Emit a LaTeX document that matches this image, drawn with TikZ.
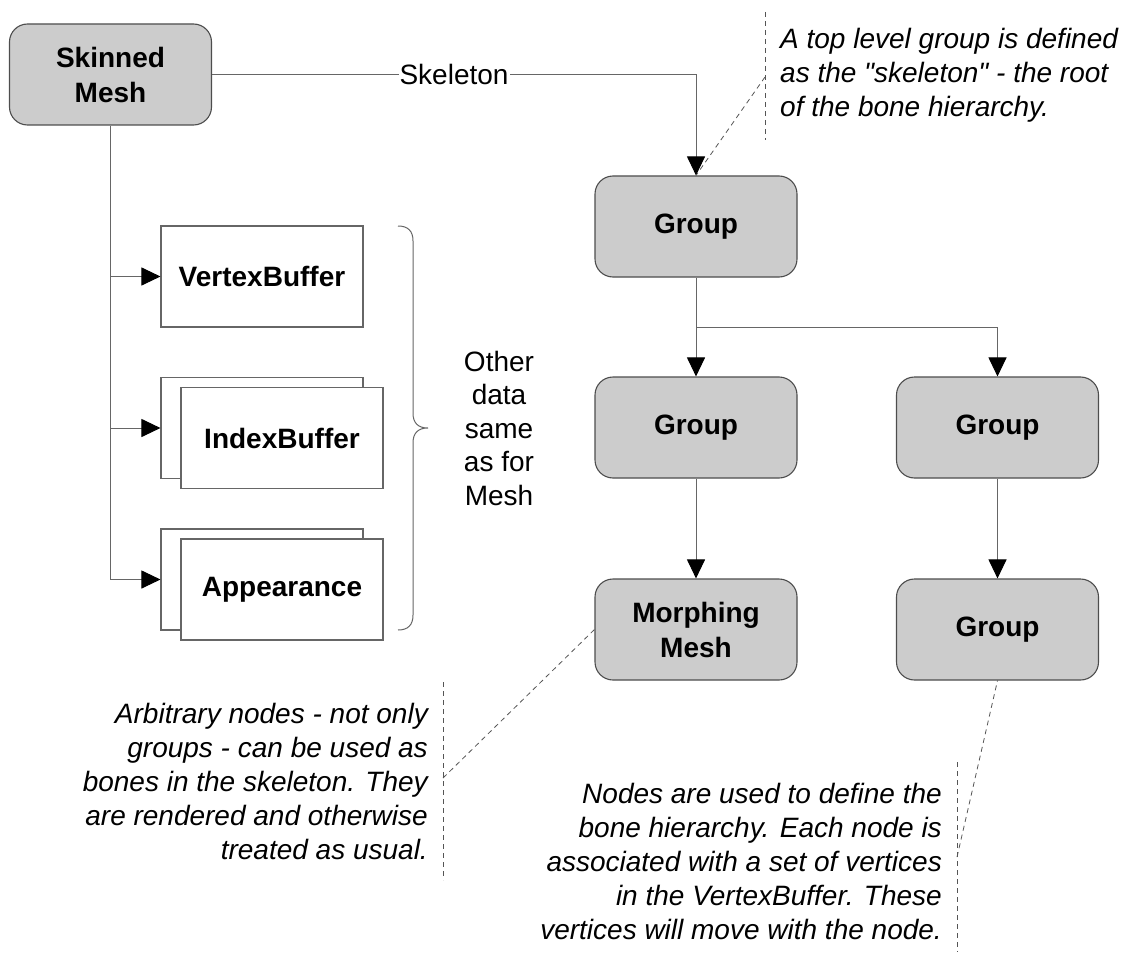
\documentclass[tikz,border=0pt]{standalone}
\usepackage{fontspec}
\setmainfont{Liberation Sans}
% plain family without TeX ligature mapping, so " stays a straight quote
\newfontfamily\notefont{Liberation Sans}
\usetikzlibrary{arrows.meta,calc}
\definecolor{boxfill}{HTML}{CCCCCC}
\definecolor{edgegray}{HTML}{4D4D4D}
\definecolor{linegray}{HTML}{666666}
\definecolor{leadgray}{HTML}{555555}
\begin{document}
\begin{tikzpicture}[x=1pt,y=-1pt,
  bone/.style={draw=edgegray, line width=1.1pt, fill=boxfill, rounded corners=18pt,
    minimum width=202pt, minimum height=101pt, align=center, inner sep=0pt,
    font=\fontsize{28}{35}\selectfont\bfseries},
  databox/.style={draw=linegray, line width=1.1pt, fill=white,
    minimum width=202pt, minimum height=101pt, inner sep=0pt,
    font=\fontsize{28}{35}\selectfont\bfseries},
  conn/.style={draw=linegray, line width=1pt},
  arr/.style={conn, -{Triangle[length=19pt,width=18pt,color=black]}},
  lead/.style={draw=leadgray, line width=0.8pt, dash pattern=on 5pt off 4pt},
  note/.style={inner sep=0pt, font=\notefont\fontsize{28}{34}\selectfont\itshape}
]
\useasboundingbox (0,0) rectangle (1131,952);

% mesh and its data blocks
\node[bone] (sm) at (110.5,74.5) {Skinned\\Mesh};
\node[databox] (vb) at (262,276.5) {VertexBuffer};
\node[databox] (ibb) at (262,428) {};
\node[databox] (ib) at (282,438) {IndexBuffer};
\node[databox] (apb) at (262,579.5) {};
\node[databox] (ap) at (282,589.5) {Appearance};

% bone hierarchy
\node[bone] (g1) at (696,226.5) {Group};
\node[bone] (g2) at (696,427.5) {Group};
\node[bone] (g3) at (997.5,427.5) {Group};
\node[bone] (mm) at (696,629.5) {Morphing\\Mesh};
\node[bone] (g4) at (997.5,629.5) {Group};

% mesh connectors
\draw[conn] (sm.south) -- (sm.south |- apb.west);
\foreach \t in {vb,ibb,apb}
  \draw[arr] (sm.south |- \t.west) -- (\t.west);

\draw[arr] (sm.east) -| node[pos=0.25, fill=white, inner sep=1pt,
  font=\fontsize{28}{35}\selectfont] (skl) {Skeleton} (g1.north);

% hierarchy connectors
\coordinate (split) at ($(g1.south)!0.5!(g2.north)$);
\draw[arr] (g1.south) -- (g2.north);
\draw[arr] (split) -| (g3.north);
\draw[arr] (g2.south) -- (mm.north);
\draw[arr] (g3.south) -- (g4.north);

% brace over the data blocks
\draw[conn] (398,226) .. controls (408,226) and (413,231) .. (413,241)
  -- (413,413) .. controls (413,423) and (418,428) .. (428,428)
  .. controls (418,428) and (413,433) .. (413,443)
  -- (413,615) .. controls (413,625) and (408,630) .. (398,630);
\node[align=center, inner sep=0pt, font=\fontsize{28}{33.5}\selectfont] (other) at (499,428)
  {Other\\data\\same\\as for\\Mesh};

% annotations
\node[note, anchor=west, align=left] (n1) at (780,75)
  {A top level group is defined\\as the "skeleton" - the root\\of the bone hierarchy.};
\coordinate (n1a) at (765,12);
\coordinate (n1b) at (765,140);
\coordinate (n1c) at (765,77);
\draw[lead] (n1a) -- (n1b);
\draw[lead] (n1c) -- (g1.north);

\node[note, anchor=east, align=right] (n2) at (428,781)
  {Arbitrary nodes - not only\\groups - can be used as\\bones in the skeleton. They\\are rendered and otherwise\\treated as usual.};
\coordinate (n2a) at (443,682);
\coordinate (n2b) at (443,880);
\coordinate (n2c) at (443,778);
\draw[lead] (n2a) -- (n2b);
\draw[lead] (n2c) -- (mm.west);

\node[note, anchor=east, align=right] (n3) at (942,861)
  {Nodes are used to define the\\bone hierarchy. Each node is\\associated with a set of vertices\\in the VertexBuffer. These\\vertices will move with the node.};
\coordinate (n3a) at (957,762);
\coordinate (n3b) at (957,952);
\coordinate (n3c) at (957,857);
\draw[lead] (n3a) -- (n3b);
\draw[lead] (n3c) -- (g4.south);
\end{tikzpicture}
\end{document}
